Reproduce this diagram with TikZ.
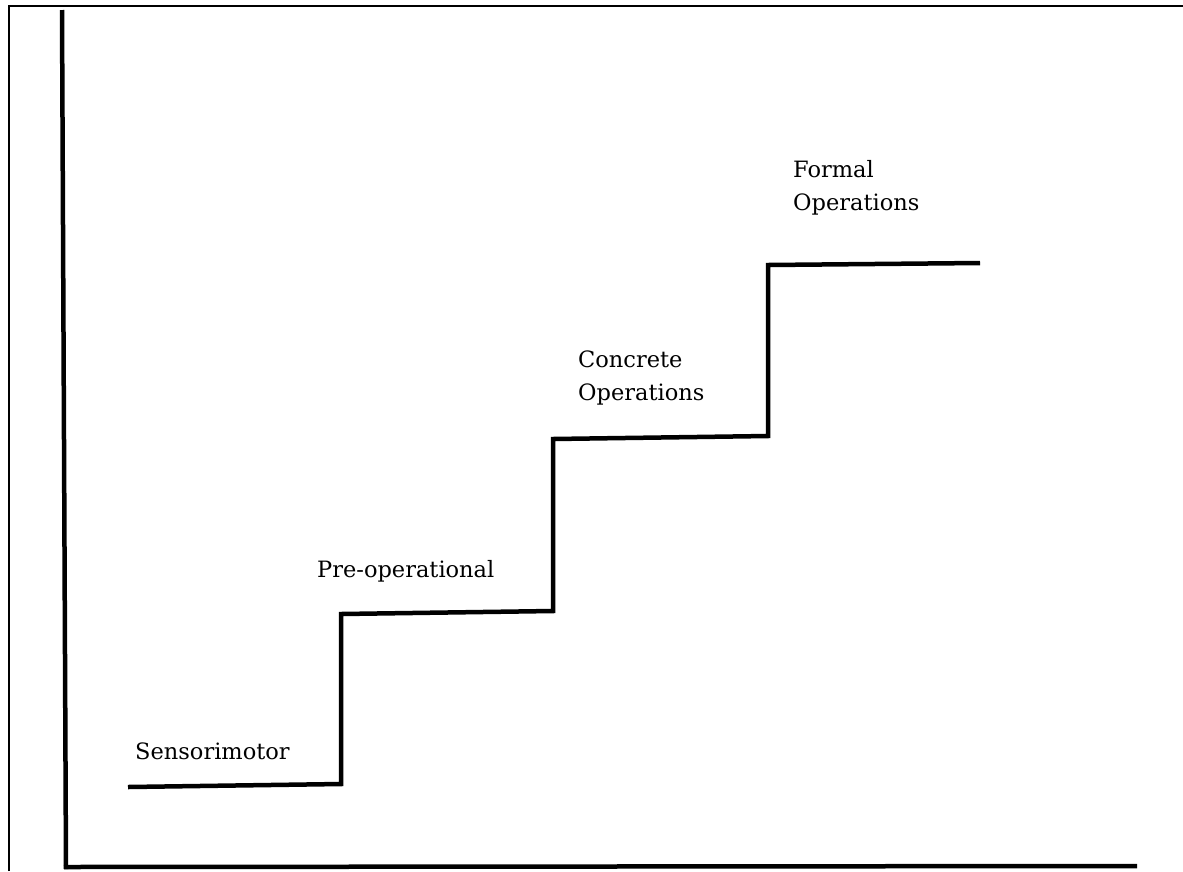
\documentclass[tikz,border=0pt]{standalone}
\usepackage{fontspec}
\setmainfont{DejaVu Serif}
\begin{document}
\begin{tikzpicture}[x=1pt,y=-1pt,
  frame/.style={line width=2.5pt},
  axis/.style={line width=4.5pt},
  stair/.style={line width=4.5pt,line join=miter},
  lbl/.style={anchor=base west,inner sep=0pt,align=left,font=\fontsize{22.5}{32.5}\selectfont}]
\useasboundingbox (0,0) rectangle (1183,871);
% frame
\coordinate (fb) at (9,871);
\coordinate (ft) at (9,6);
\coordinate (fr) at (1183,6);
\draw[frame] (fb) -- (ft) -- (fr);
% axes
\coordinate (ytop) at (62,10);
\coordinate (ybot) at (66,869);
\coordinate (xbeg) at (64,867);
\coordinate (xend) at (1137,866);
\draw[axis] (ytop) -- (ybot);
\draw[axis] (xbeg) -- (xend);
% staircase
\coordinate (s0) at (128,787);
\coordinate (s1) at (341,784);
\coordinate (s2) at (341,614);
\coordinate (s3) at (553,611);
\coordinate (s4) at (553,439);
\coordinate (s5) at (768,436);
\coordinate (s6) at (768,265);
\coordinate (s7) at (980,263);
\draw[stair] (s0) -- (s1) -- (s2) -- (s3) -- (s4) -- (s5) -- (s6) -- (s7);
% labels
\node[lbl] (sen) at (135,759) {Sensorimotor};
\node[lbl] (pre) at (317,577) {Pre-operational};
\node[lbl] (con) at (578,400) {Concrete\\Operations};
\node[lbl] (for) at (793,210) {Formal\\Operations};
\end{tikzpicture}
\end{document}
